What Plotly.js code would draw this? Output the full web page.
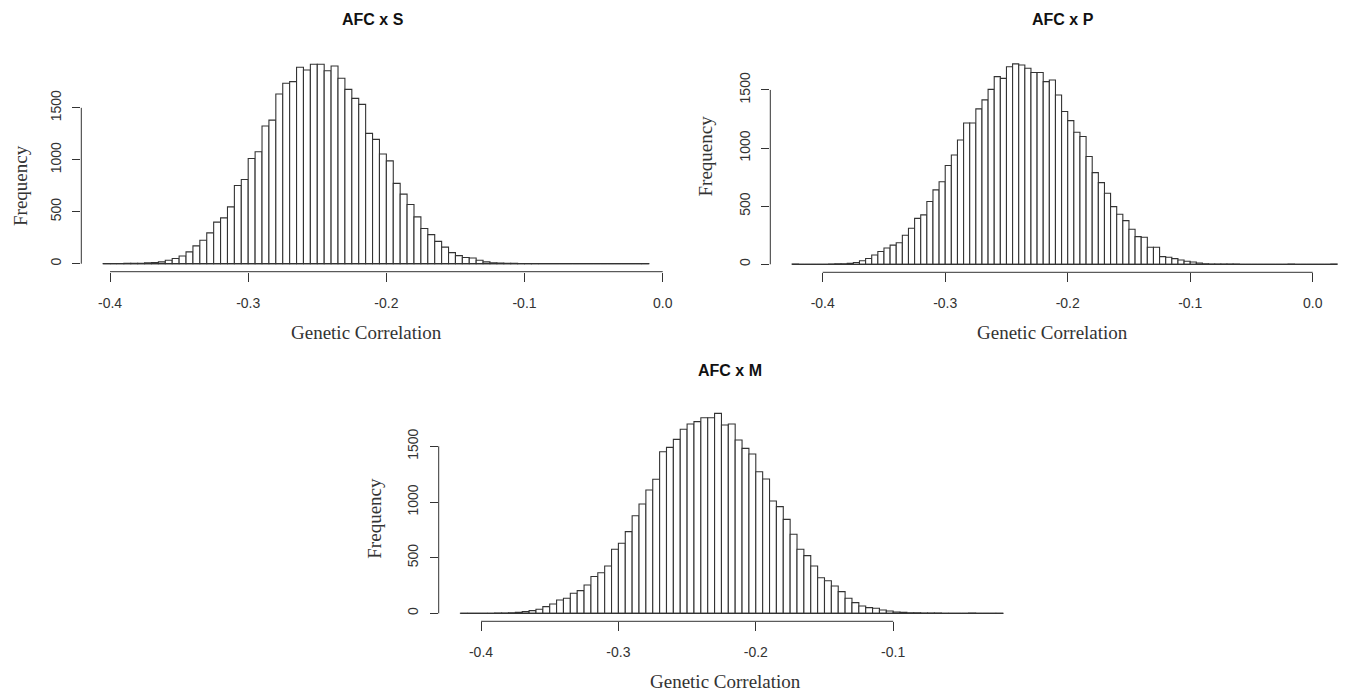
<!DOCTYPE html>
<html><head><meta charset="utf-8">
<script src="https://cdn.plot.ly/plotly-3.0.1.min.js"></script>
<style>html,body{margin:0;padding:0;background:#fff}#chart{width:1346px;height:693px}</style>
</head><body><div id="chart"></div>
<script>
// ---- data ----
const binWidth = 0.005;
const startS = -0.405;
const startP = -0.425;
const startM = -0.415;
const countsS = [
  1, 0, 1, 3, 4, 5, 8, 12, 18, 34,
  50, 75, 114, 172, 226, 297, 400, 441, 547, 753,
  811, 1013, 1077, 1325, 1382, 1633, 1736, 1752, 1890, 1864,
  1919, 1919, 1857, 1903, 1784, 1678, 1591, 1533, 1254, 1196,
  1055, 990, 773, 670, 570, 451, 339, 280, 215, 160,
  107, 78, 60, 55, 34, 18, 10, 6, 4, 3,
  2, 2, 1, 0, 0, 0, 0, 0, 0, 0,
  0, 0, 0, 0, 0, 0, 0, 0, 1
];
const countsP = [
  1, 0, 0, 0, 0, 0, 2, 4, 5, 8,
  15, 30, 50, 80, 110, 140, 165, 185, 250, 310,
  395, 425, 540, 640, 710, 850, 940, 1070, 1215, 1215,
  1337, 1415, 1505, 1615, 1600, 1700, 1724, 1715, 1687, 1650,
  1650, 1572, 1586, 1457, 1314, 1236, 1136, 1099, 927, 789,
  703, 611, 496, 430, 376, 301, 238, 232, 146, 146,
  66, 60, 49, 37, 26, 20, 11, 5, 3, 2,
  2, 1, 1, 0, 0, 0, 0, 0, 0, 0,
  0, 2, 0, 0, 0, 0, 0, 0, 1
];
const countsM = [
  1, 0, 0, 0, 1, 2, 3, 5, 8, 15,
  24, 36, 60, 84, 120, 135, 180, 204, 254, 330,
  365, 425, 575, 629, 734, 877, 982, 1108, 1204, 1452,
  1491, 1563, 1653, 1701, 1722, 1757, 1757, 1796, 1692, 1701,
  1557, 1482, 1431, 1272, 1207, 1009, 958, 844, 710, 575,
  518, 425, 320, 293, 245, 195, 135, 96, 66, 51,
  45, 30, 21, 12, 8, 5, 4, 3, 2, 2,
  1, 0, 0, 0, 2, 0, 0, 0, 1
];
const panelTitles = ['AFC x S', 'AFC x P', 'AFC x M'];
const xTickVals1 = [-0.4, -0.3, -0.2, -0.1, 0.0];
const xTickText1 = ['-0.4', '-0.3', '-0.2', '-0.1', '0.0'];
const xTickVals3 = [-0.4, -0.3, -0.2, -0.1];
const xTickText3 = ['-0.4', '-0.3', '-0.2', '-0.1'];
const yTickVals = [0, 500, 1000, 1500];
const yTickText = ['0', '500', '1000', '1500'];
const xLabel = 'Genetic Correlation';
const yLabel = 'Frequency';

// ---- layout (pixel boxes of the R plot regions) ----
const W = 1346, H = 693;
const panels = [
  {counts: countsS, start: startS, xt: xTickVals1, xtt: xTickText1,
   box: {left: 81.3, right: 670.7, top: 56.3, bottom: 271.7},
   title: [373, 20], xlab: [367, 332], ylab: [20, 186]},
  {counts: countsP, start: startP, xt: xTickVals1, xtt: xTickText1,
   box: {left: 770.3, right: 1359, top: 55.9, bottom: 272.3},
   title: [1063, 19.5], xlab: [1052, 332], ylab: [704.5, 156]},
  {counts: countsM, start: startM, xt: xTickVals3, xtt: xTickText3,
   box: {left: 438.7, right: 1024.8, top: 405.4, bottom: 621.3},
   title: [730, 370], xlab: [725, 681], ylab: [373.7, 518]}
];

const ink = '#333';
const tickFont = {family: 'Liberation Sans, Arial, sans-serif', size: 14, color: ink};
const labFont = {family: 'Liberation Serif, Times New Roman, serif', size: 19, color: ink};
const titleFont = {family: 'Liberation Sans, Arial, sans-serif', size: 16, color: '#111', weight: 'bold'};

const traces = [];
const layout = {
  width: W, height: H, margin: {l: 0, r: 0, t: 0, b: 0},
  paper_bgcolor: '#fff', plot_bgcolor: '#fff',
  showlegend: false, shapes: [], annotations: []
};

panels.forEach((p, i) => {
  const n = i + 1;
  const xa = n === 1 ? 'x' : 'x' + n;
  const ya = n === 1 ? 'y' : 'y' + n;
  const xs = p.counts.map((c, k) => p.start + (k + 0.5) * binWidth);
  const lo = p.start, hi = p.start + p.counts.length * binWidth;
  const ymax = Math.max(...p.counts);
  // R-style 4% extension of the data range
  const xr0 = lo - 0.04 * (hi - lo), xr1 = hi + 0.04 * (hi - lo);
  const yr = [-0.04 * ymax, 1.04 * ymax];
  const b = p.box;
  const rightPx = Math.min(b.right, W);
  const xr1c = xr0 + (xr1 - xr0) * (rightPx - b.left) / (b.right - b.left);

  traces.push({
    type: 'bar', x: xs, y: p.counts, width: binWidth,
    marker: {color: '#fff', line: {color: ink, width: 1.1}},
    xaxis: xa, yaxis: ya, hoverinfo: 'skip'
  });

  layout['xaxis' + (n === 1 ? '' : n)] = {
    domain: [b.left / W, rightPx / W], range: [xr0, xr1c], anchor: ya,
    tickmode: 'array', tickvals: p.xt, ticktext: p.xtt,
    ticks: 'outside', ticklen: 9, tickwidth: 1, tickcolor: ink,
    showgrid: false, zeroline: false, showline: false,
    tickfont: tickFont, ticklabelstandoff: 9, fixedrange: true
  };
  layout['yaxis' + (n === 1 ? '' : n)] = {
    domain: [1 - b.bottom / H, 1 - b.top / H], range: yr, anchor: xa,
    tickmode: 'array', tickvals: yTickVals, ticktext: yTickText, tickangle: -90,
    ticks: 'outside', ticklen: 8, tickwidth: 1, tickcolor: ink,
    showgrid: false, zeroline: false, showline: false,
    tickfont: tickFont, ticklabelstandoff: 6, fixedrange: true
  };

  // baseline of the histogram (all bins, including empty ones)
  layout.shapes.push({type: 'line', xref: xa, yref: ya, x0: lo, x1: hi, y0: 0, y1: 0,
    line: {color: ink, width: 1.2}});
  // R-style axis lines spanning first to last tick
  layout.shapes.push({type: 'line', xref: xa, yref: ya + ' domain',
    x0: p.xt[0], x1: p.xt[p.xt.length - 1], y0: 0, y1: 0, line: {color: ink, width: 1}});
  layout.shapes.push({type: 'line', xref: xa + ' domain', yref: ya,
    x0: 0, x1: 0, y0: yTickVals[0], y1: yTickVals[yTickVals.length - 1], line: {color: ink, width: 1}});

  layout.annotations.push({text: panelTitles[i], xref: 'paper', yref: 'paper',
    x: p.title[0] / W, y: 1 - p.title[1] / H, xanchor: 'center', yanchor: 'middle',
    showarrow: false, font: titleFont});
  layout.annotations.push({text: xLabel, xref: 'paper', yref: 'paper',
    x: p.xlab[0] / W, y: 1 - p.xlab[1] / H, xanchor: 'center', yanchor: 'middle',
    showarrow: false, font: labFont});
  layout.annotations.push({text: yLabel, xref: 'paper', yref: 'paper', textangle: -90,
    x: p.ylab[0] / W, y: 1 - p.ylab[1] / H, xanchor: 'center', yanchor: 'middle',
    showarrow: false, font: labFont});
});

Plotly.newPlot('chart', traces, layout, {displayModeBar: false, staticPlot: true});
</script>
</body></html>
